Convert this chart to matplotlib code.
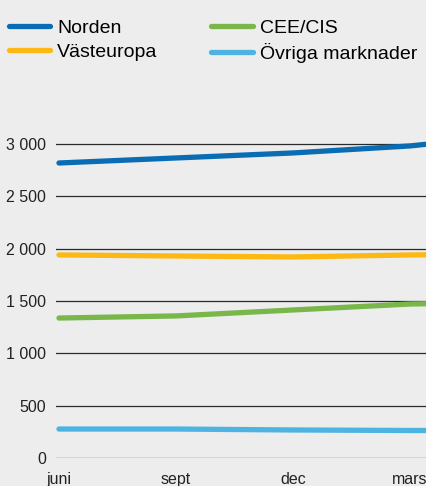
import matplotlib
matplotlib.use("Agg")
import matplotlib.pyplot as plt
from matplotlib.ticker import FuncFormatter

plt.rcParams["font.family"] = ["Liberation Sans", "DejaVu Sans"]

# ─────────────────────────────────────────────
# Data
# ─────────────────────────────────────────────

periods = ["juni", "sept", "dec", "mars", ""]
x = list(range(len(periods)))

norden      = [2820, 2868, 2916, 2983, 3100]
vasteuropa  = [1941, 1931, 1922, 1941, 1950]
cee_cis     = [1338, 1358, 1415, 1472, 1490]
ovriga      = [277, 277, 268, 263, 262]

series = [
    ("Norden", norden, "#0a6db3"),
    ("Västeuropa", vasteuropa, "#fdb913"),
    ("CEE/CIS", cee_cis, "#79b74b"),
    ("Övriga marknader", ovriga, "#4db3e2"),
]

yticks = [0, 500, 1000, 1500, 2000, 2500, 3000]

BG = "#ecedec"

# ─────────────────────────────────────────────
# Figure
# ─────────────────────────────────────────────

fig = plt.figure(figsize=(4.27, 4.86), dpi=100, facecolor=BG)
ax = fig.add_axes([0.131, 0.0576, 0.869, 0.6673], facecolor=BG)

for yv in yticks:
    ax.axhline(yv, color="#2a2a2a", lw=0.9, zorder=1)

handles = []
for name, vals, col in series:
    h, = ax.plot(x, vals, color=col, lw=3.8, solid_capstyle="round", zorder=3, label=name)
    handles.append(h)

ax.set_xlim(-0.026, 3.145)
ax.set_ylim(0, 3100)
ax.set_xticks(x[:4])
ax.set_xticklabels(periods[:4])
ax.set_yticks(yticks)
ax.yaxis.set_major_formatter(FuncFormatter(lambda v, p: f"{int(v):,}".replace(",", " ")))
ax.tick_params(axis="both", length=0, labelsize=11.5, colors="#222222")
ax.tick_params(axis="x", pad=10)
ax.tick_params(axis="y", pad=7)
for s in ax.spines.values():
    s.set_visible(False)

# matplotlib fills legend columns first
fig.legend(handles, [s[0] for s in series],
           ncol=2, loc="upper left", bbox_to_anchor=(0.02, 0.960),
           frameon=False, fontsize=14, handlelength=2.15, handletextpad=0.36,
           columnspacing=2.75, labelspacing=0.32, borderaxespad=0, borderpad=0)

fig.savefig("out.png", dpi=100, facecolor=BG)
